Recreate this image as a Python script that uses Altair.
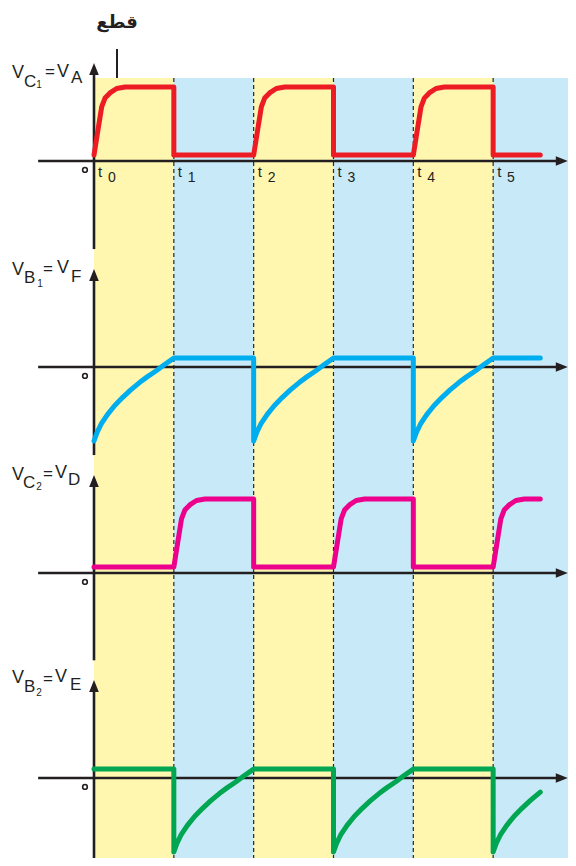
import altair as alt
import pandas as pd

AX = "#231F20"
YEL = "#FFF6B0"
BLU = "#C8E9F8"
RED = "#ED1C24"
CYAN = "#00AEEF"
MAG = "#EC008C"
GRN = "#00A651"

# background half-periods
yellow_start = [0, 2, 4]
yellow_end = [1, 3, 5]
blue_start = [1, 3, 5]
blue_end = [2, 4, 6]
dash_times = [1, 2, 3, 4, 5, 6]
t_label_times = [0, 1, 2, 3, 4, 5]
t_label_digits = ["0", "1", "2", "3", "4", "5"]

# V_C1 = V_A
red_t = [0, 0.05, 0.096, 0.138, 0.2, 0.284, 0.39, 1.0, 1.0,
         2.0, 2.05, 2.096, 2.138, 2.2, 2.284, 2.39, 3.0, 3.0,
         4.0, 4.05, 4.096, 4.138, 4.2, 4.284, 4.39, 5.0, 5.0, 5.59]
red_v = [0.08, 0.42, 0.73, 0.85, 0.92, 0.98, 1.0, 1.0, 0.08,
         0.08, 0.42, 0.73, 0.85, 0.92, 0.98, 1.0, 1.0, 0.08,
         0.08, 0.42, 0.73, 0.85, 0.92, 0.98, 1.0, 1.0, 0.08, 0.08]

# V_B1 = V_F
blue_t = [0, 0.04, 0.09, 0.17, 0.26, 0.36, 0.46, 0.57, 0.67, 0.78, 0.88, 1.0,
          2.0, 2.0, 2.04, 2.09, 2.17, 2.26, 2.36, 2.46, 2.57, 2.67, 2.78, 2.88, 3.0,
          4.0, 4.0, 4.04, 4.09, 4.17, 4.26, 4.36, 4.46, 4.57, 4.67, 4.78, 4.88, 5.0,
          5.59]
blue_v = [-1.0, -0.88, -0.77, -0.64, -0.52, -0.41, -0.31, -0.21, -0.13, -0.05, 0.03, 0.12,
          0.12, -1.0, -0.88, -0.77, -0.64, -0.52, -0.41, -0.31, -0.21, -0.13, -0.05, 0.03, 0.12,
          0.12, -1.0, -0.88, -0.77, -0.64, -0.52, -0.41, -0.31, -0.21, -0.13, -0.05, 0.03, 0.12,
          0.12]

# V_C2 = V_D
mag_t = [0, 1.0, 1.05, 1.096, 1.138, 1.2, 1.284, 1.39, 2.0, 2.0,
         3.0, 3.05, 3.096, 3.138, 3.2, 3.284, 3.39, 4.0, 4.0,
         5.0, 5.05, 5.096, 5.138, 5.2, 5.284, 5.39, 5.59]
mag_v = [0.08, 0.08, 0.42, 0.73, 0.85, 0.92, 0.98, 1.0, 1.0, 0.08,
         0.08, 0.42, 0.73, 0.85, 0.92, 0.98, 1.0, 1.0, 0.08,
         0.08, 0.42, 0.73, 0.85, 0.92, 0.98, 1.0, 1.0]

# V_B2 = V_E
grn_t = [0, 1.0, 1.0, 1.04, 1.09, 1.17, 1.26, 1.36, 1.46, 1.57, 1.67, 1.78, 1.88, 2.0,
         3.0, 3.0, 3.04, 3.09, 3.17, 3.26, 3.36, 3.46, 3.57, 3.67, 3.78, 3.88, 4.0,
         5.0, 5.0, 5.04, 5.09, 5.17, 5.26, 5.36, 5.46, 5.59]
grn_v = [0.12, 0.12, -1.0, -0.88, -0.77, -0.64, -0.52, -0.41, -0.31, -0.21, -0.13, -0.05, 0.03, 0.12,
         0.12, -1.0, -0.88, -0.77, -0.64, -0.52, -0.41, -0.31, -0.21, -0.13, -0.05, 0.03, 0.12,
         0.12, -1.0, -0.88, -0.77, -0.64, -0.52, -0.41, -0.31, -0.19]

# axis-label pieces: (text, t, v, font size)
lab1 = [("V", -1.027, 1.122, 18), ("C", -0.877, 1.0, 17), ("1", -0.722, 0.986, 10),
        ("=", -0.614, 1.135, 17), ("V", -0.463, 1.135, 18), ("A", -0.288, 1.054, 17)]
lab2 = [("V", -1.027, 1.243, 18), ("B", -0.877, 1.135, 17), ("1", -0.710, 1.081, 10),
        ("=", -0.639, 1.257, 17), ("V", -0.463, 1.270, 18), ("F", -0.288, 1.149, 17)]
lab3 = [("V", -1.027, 1.257, 18), ("C", -0.889, 1.149, 17), ("2", -0.722, 1.122, 10),
        ("=", -0.639, 1.270, 17), ("V", -0.489, 1.284, 18), ("D", -0.326, 1.189, 17)]
lab4 = [("V", -1.027, 1.284, 18), ("B", -0.877, 1.162, 17), ("2", -0.722, 1.108, 10),
        ("=", -0.639, 1.270, 17), ("V", -0.489, 1.297, 18), ("E", -0.301, 1.189, 17)]

W, H = 560, 850
XS = alt.Scale(domain=[-1.0773, 5.9376], nice=False, zero=False)
ARROW_R = "M1,0L-1,-0.8L-1,0.8Z"
ARROW_U = "M0,-1L0.8,1L-0.8,1Z"

# each panel has its own voltage scale (74 px per unit), baseline placed per panel
DOM1 = [-9.4189, 2.0676]
DOM2 = [-6.6351, 4.8514]
DOM3 = [-3.8514, 7.6351]
DOM4 = [-1.0811, 10.4054]


def xq(f):
    return alt.X(f, type="quantitative", scale=XS, axis=None)


def xd(v):
    return alt.XDatum(v, scale=XS, axis=None)


one = pd.DataFrame({"k": [0]})


def background():
    Y = alt.Scale(domain=DOM1, nice=False, zero=False)
    yd = alt.YDatum(1.122, scale=Y, axis=None)
    y2 = alt.Y2Datum(DOM1[0])
    return [
        alt.Chart(pd.DataFrame({"s": yellow_start, "e": yellow_end})).mark_rect(color=YEL, clip=True)
        .encode(x=xq("s"), x2="e:Q", y=yd, y2=y2),
        alt.Chart(pd.DataFrame({"s": blue_start, "e": blue_end})).mark_rect(color=BLU, clip=True)
        .encode(x=xq("s"), x2="e:Q", y=yd, y2=y2),
        alt.Chart(pd.DataFrame({"t": dash_times}))
        .mark_rule(color="#262626", strokeWidth=1.2, strokeDash=[4, 3], clip=True)
        .encode(x=xq("t"), y=yd, y2=y2),
    ]


def panel(wt, wv, color, labels, dom, axis_bottom, first=False):
    Y = alt.Scale(domain=dom, nice=False, zero=False)

    def yq(f):
        return alt.Y(f, type="quantitative", scale=Y, axis=None)

    def yd(v):
        return alt.YDatum(v, scale=Y, axis=None)

    layers = []
    layers.append(alt.Chart(one).mark_rule(color=AX, strokeWidth=2.6)
                  .encode(x=xd(-0.70), x2=alt.X2Datum(5.84), y=yd(0)))
    layers.append(alt.Chart(one).mark_rule(color=AX, strokeWidth=2.6)
                  .encode(x=xd(0), y=yd(axis_bottom), y2=alt.Y2Datum(1.2)))
    layers.append(alt.Chart(one).mark_point(shape=ARROW_R, filled=True, size=144, color=AX, opacity=1)
                  .encode(x=xd(5.86), y=yd(0)))
    layers.append(alt.Chart(one).mark_point(shape=ARROW_U, filled=True, size=144, color=AX, opacity=1)
                  .encode(x=xd(0), y=yd(1.243)))
    wdf = pd.DataFrame({"t": wt, "v": wv, "i": list(range(len(wt)))})
    layers.append(alt.Chart(wdf).mark_line(color=color, strokeWidth=5, strokeCap="round", strokeJoin="round")
                  .encode(x=xq("t"), y=yq("v"), order="i:Q"))
    layers.append(alt.Chart(one).mark_point(shape="circle", filled=False, size=22, strokeWidth=1.6,
                                            color=AX, opacity=1)
                  .encode(x=xd(-0.113), y=yd(-0.12)))
    ldf = pd.DataFrame(labels, columns=["txt", "t", "v", "fs"])
    layers.append(alt.Chart(ldf).mark_text(align="left", baseline="alphabetic", font="Liberation Sans", color=AX)
                  .encode(x=xq("t"), y=yq("v"), text="txt:N", size=alt.Size("fs:Q", scale=None)))
    if first:
        tdf = pd.DataFrame({"t": t_label_times, "d": t_label_digits})
        layers.append(alt.Chart(tdf).transform_calculate(tx="datum.t + 0.05")
                      .mark_text(align="left", baseline="alphabetic", font="Liberation Sans", fontSize=15,
                                 color=AX, text="t")
                      .encode(x=xq("tx"), y=yd(-0.216)))
        layers.append(alt.Chart(tdf).transform_calculate(tx="datum.t + 0.175")
                      .mark_text(align="left", baseline="alphabetic", font="Liberation Sans", fontSize=14, color=AX)
                      .encode(x=xq("tx"), y=yd(-0.284), text="d:N"))
        layers.append(alt.Chart(one).mark_rule(color=AX, strokeWidth=2)
                      .encode(x=xd(0.288), y=yd(1.122), y2=alt.Y2Datum(1.514)))
        layers.append(alt.Chart(one).mark_text(align="center", baseline="alphabetic", font="DejaVu Sans",
                                               fontWeight="bold", fontSize=18, color=AX, text="قطع")
                      .encode(x=xd(0.288), y=yd(1.797)))
    return layers


all_layers = (background()
              + panel(red_t, red_v, RED, lab1, DOM1, -1.19, first=True)
              + panel(blue_t, blue_v, CYAN, lab2, DOM2, -1.19)
              + panel(mag_t, mag_v, MAG, lab3, DOM3, -1.18)
              + panel(grn_t, grn_v, GRN, lab4, DOM4, -1.0811))

chart = (alt.layer(*all_layers)
         .resolve_scale(y="independent")
         .properties(width=W, height=H, padding=0, autosize=alt.AutoSizeParams(type="none"))
         .configure_view(stroke=None, strokeWidth=0))

chart.save("out.html", embed_options={"renderer": "svg", "actions": False})
